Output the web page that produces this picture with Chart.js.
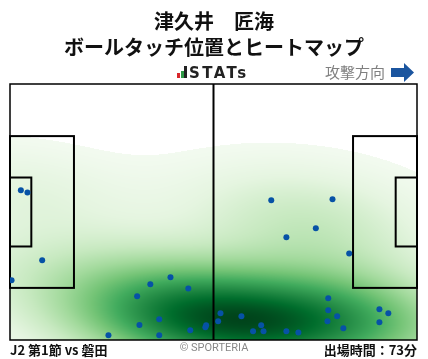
<!DOCTYPE html>
<html>
<head>
<meta charset="utf-8">
<script src="https://cdn.jsdelivr.net/npm/chart.js@4"></script>
<style>
  body { margin: 0; background: #fff; }
  #wrap { position: relative; width: 428px; height: 359px; overflow: hidden; font-family: "Noto Sans CJK JP", "Noto Sans", sans-serif; }
  #chart { position: absolute; left: 0; top: 0; }
  .t { position: absolute; white-space: nowrap; }
  #title { left: 0; top: 8px; width: 428px; text-align: center; font-weight: bold; font-size: 20px; line-height: 25.5px; color: #111; }
  #stats { left: 177px; top: 62px; width: 80px; height: 16px; }
  #stats .bar { position: absolute; bottom: 0; width: 3px; }
  #stats span.txt { position: absolute; left: 12px; top: 2px; line-height: normal; font-family: "DejaVu Sans", sans-serif; font-weight: bold; font-size: 15px; color: #222; letter-spacing: 2.4px; }
  #dir { left: 325px; top: 61px; font-size: 15px; color: #808080; }
  #arrow { position: absolute; left: 391px; top: 63px; }
  #foot-l { left: 10px; top: 340px; font-size: 13px; font-weight: bold; color: #111; }
  #foot-c { left: 0; width: 428px; text-align: center; top: 341px; font-size: 11px; color: #888; font-family: "Roboto", "Noto Sans", sans-serif; }
  #foot-r { right: 11px; top: 340px; font-size: 13px; font-weight: bold; color: #111; }
</style>
</head>
<body>
<div id="wrap">
  <canvas id="chart" width="428" height="359"></canvas>
  <div class="t" id="title">津久井　匠海<br>ボールタッチ位置とヒートマップ</div>
  <div class="t" id="stats">
    <div class="bar" style="left:0;height:5px;background:#d8262b"></div>
    <div class="bar" style="left:3.5px;height:7px;background:#2e9a46"></div>
    <div class="bar" style="left:7px;height:12px;background:#222"></div>
    <span class="txt">STATs</span>
  </div>
  <div class="t" id="dir">攻撃方向</div>
  <svg id="arrow" width="24" height="20" viewBox="0 0 24 20"><path d="M0 5 H13 V0 L23 9.5 L13 19 V14 H0 Z" fill="#1b559f"/></svg>
  <div class="t" id="foot-l">J2 第1節 vs 磐田</div>
  <div class="t" id="foot-c">© SPORTERIA</div>
  <div class="t" id="foot-r">出場時間：73分</div>
</div>
<script>
// ボールタッチ位置 (pitch coords: x 0-105 toward attack, y 0-68)
const touchX = [2.8, 4.5, 8.3, 0.4, 41.4, 36.2, 46.0, 32.8, 38.5, 33.4, 25.4, 38.5,
                46.5, 50.6, 50.4, 54.3, 53.7, 59.7, 64.8, 62.7, 65.4, 71.3, 74.4, 82.1,
                82.1, 84.4, 81.9, 86.0, 95.3, 97.6, 95.3, 67.4, 83.2, 78.9, 71.3, 87.5];
const touchY = [39.8, 39.2, 21.2, 15.9, 16.7, 14.8, 13.7, 11.6, 5.5, 4.0, 1.25, 1.25,
                2.6, 3.9, 3.4, 7.1, 5.0, 6.3, 3.9, 2.3, 2.3, 2.3, 2.0, 11.1,
                7.9, 6.3, 5.0, 3.1, 8.2, 7.1, 4.7, 37.1, 37.4, 29.7, 27.3, 23.0];

const PITCH_L = 105, PITCH_W = 68;
const BW_ADJUST = 1.4;
const THRESH = 0.03;

// Greens colormap
const greens = [[247,252,245],[229,245,224],[199,233,192],[161,217,155],[116,196,118],
                [65,171,93],[35,139,69],[0,109,44],[0,68,27]];
function greenAt(t) {
  t = Math.max(0, Math.min(1, t)) * (greens.length - 1);
  const i = Math.min(greens.length - 2, Math.floor(t)), f = t - i;
  const a = greens[i], b = greens[i + 1];
  return [a[0] + (b[0] - a[0]) * f, a[1] + (b[1] - a[1]) * f, a[2] + (b[2] - a[2]) * f];
}

// gaussian kde (scott)
function buildKde(xs, ys) {
  const n = xs.length;
  const mx = xs.reduce((a, b) => a + b) / n, my = ys.reduce((a, b) => a + b) / n;
  let sxx = 0, syy = 0, sxy = 0;
  for (let i = 0; i < n; i++) {
    sxx += (xs[i] - mx) ** 2; syy += (ys[i] - my) ** 2; sxy += (xs[i] - mx) * (ys[i] - my);
  }
  const f2 = Math.pow(n, -1 / 3) * BW_ADJUST * BW_ADJUST;
  const cxx = sxx / (n - 1) * f2, cyy = syy / (n - 1) * f2, cxy = sxy / (n - 1) * f2;
  const det = cxx * cyy - cxy * cxy;
  const ixx = cyy / det, iyy = cxx / det, ixy = -cxy / det;
  const dens = (x, y) => {
    let s = 0;
    for (let i = 0; i < n; i++) {
      const dx = x - xs[i], dy = y - ys[i];
      s += Math.exp(-0.5 * (ixx * dx * dx + 2 * ixy * dx * dy + iyy * dy * dy));
    }
    return s;
  };
  // iso-proportion lookup for the white cut-off
  const bx = Math.sqrt(cxx), by = Math.sqrt(cyy);
  const x0 = Math.min(...xs) - 3 * bx, x1 = Math.max(...xs) + 3 * bx;
  const y0 = Math.min(...ys) - 3 * by, y1 = Math.max(...ys) + 3 * by;
  const G = 200, vals = [];
  for (let j = 0; j < G; j++)
    for (let i = 0; i < G; i++)
      vals.push(dens(x0 + (x1 - x0) * i / (G - 1), y0 + (y1 - y0) * j / (G - 1)));
  vals.sort((a, b) => a - b);
  let acc = 0, cut = 0;
  const total = vals.reduce((a, b) => a + b);
  for (const v of vals) { acc += v; if (acc / total >= THRESH) { cut = v; break; } }
  return { dens, cut, max: vals[vals.length - 1] };
}

const heatmapPlugin = {
  id: 'heatmap',
  beforeDatasetsDraw(chart) {
    const { ctx, chartArea: a, scales: { x, y } } = chart;
    const w = Math.round(a.right - a.left), h = Math.round(a.bottom - a.top);
    const kde = buildKde(touchX, touchY);
    const img = ctx.createImageData(w, h);
    for (let py = 0; py < h; py++) {
      const dy = y.getValueForPixel(a.top + py + 0.5);
      for (let px = 0; px < w; px++) {
        const dx = x.getValueForPixel(a.left + px + 0.5);
        const d = kde.dens(dx, dy);
        const k = (py * w + px) * 4;
        let c = [255, 255, 255];
        if (d >= kde.cut) c = greenAt(0.03 + 0.97 * (d - kde.cut) / (kde.max - kde.cut));
        img.data[k] = c[0]; img.data[k+1] = c[1]; img.data[k+2] = c[2]; img.data[k+3] = 255;
      }
    }
    ctx.putImageData(img, Math.round(a.left), Math.round(a.top));

    // pitch lines
    const X = v => x.getPixelForValue(v), Y = v => y.getPixelForValue(v);
    ctx.save();
    ctx.strokeStyle = '#000';
    ctx.lineWidth = 2;
    const rect = (x0, y0, x1, y1) => ctx.strokeRect(X(x0), Y(y1), X(x1) - X(x0), Y(y0) - Y(y1));
    const mid = PITCH_W / 2;
    rect(0, mid - 20.16, 16.5, mid + 20.16);
    rect(0, mid - 9.16, 5.5, mid + 9.16);
    rect(PITCH_L - 16.5, mid - 20.16, PITCH_L, mid + 20.16);
    rect(PITCH_L - 5.5, mid - 9.16, PITCH_L, mid + 9.16);
    ctx.beginPath();
    ctx.moveTo(X(PITCH_L / 2), Y(0)); ctx.lineTo(X(PITCH_L / 2), Y(PITCH_W));
    ctx.stroke();
    ctx.lineWidth = 1.5;
    rect(0, 0, PITCH_L, PITCH_W);
    ctx.restore();
  }
};

new Chart(document.getElementById('chart'), {
  type: 'scatter',
  data: {
    datasets: [{
      data: touchX.map((v, i) => ({ x: v, y: touchY[i] })),
      backgroundColor: '#0652a6',
      borderWidth: 0,
      pointRadius: 3,
      pointHoverRadius: 3
    }]
  },
  options: {
    responsive: false,
    animation: false,
    events: [],
    layout: { padding: { left: 10, right: 11, top: 84, bottom: 19 } },
    plugins: { legend: { display: false }, tooltip: { enabled: false } },
    scales: {
      x: { type: 'linear', min: 0, max: PITCH_L, display: false },
      y: { type: 'linear', min: 0, max: PITCH_W, display: false }
    }
  },
  plugins: [heatmapPlugin]
});
</script>
</body>
</html>
